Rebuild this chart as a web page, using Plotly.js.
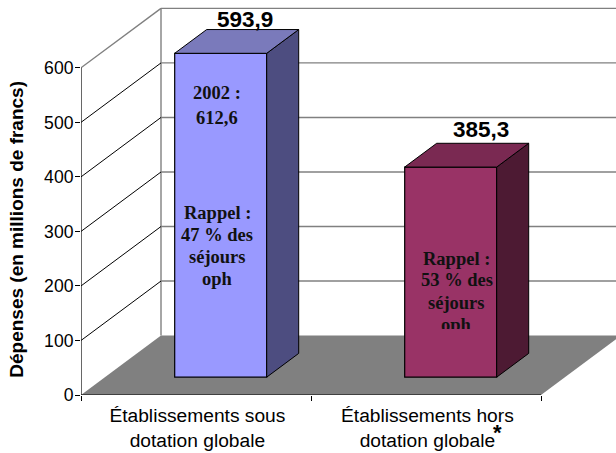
<!DOCTYPE html>
<html><head><meta charset="utf-8">
<script src="https://cdn.plot.ly/plotly-3.0.0.min.js"></script>
<style>html,body{margin:0;padding:0;background:#fff}#c{width:616px;height:453px}</style>
</head><body><div id="c"></div>
<script>
// data
const categories = ["Établissements sous<br>dotation globale", "Établissements hors<br>dotation globale"];
const values = [593.9, 385.3];
const valueLabels = ["593,9", "385,3"];
const yTicks = [0, 100, 200, 300, 400, 500, 600];
const notes = [
  ["2002 :", "612,6", "Rappel :", "47 % des", "séjours", "oph"],
  ["Rappel :", "53 % des", "séjours", "oph"]
];
// styles
const frontColors = ["#9999FF", "#993366"];
const topColors = ["#7A7ABB", "#7A2952"];
const sideColors = ["#4D4D80", "#4D1A33"];
const noteY = [[554, 508, 334, 293, 253, 212], [250, 210, 169, 129]];
const noteDx = [-3.5 / 230, 6 / 230];
const labelDx = [0.213, 0.239];
const labelDy = [18, 26];

// geometry (axis units)
const W = 616, H = 453, L = 81, B = 57.5;
const pxX = 230, pxY = 0.546;
const xMin = -0.5, xMax = xMin + (W - L) / pxX;
const yMax = (H - B) / pxY;
const DX = 80 / pxX, DY = 59.5 / pxY;
const f0 = 0.30, f1 = 0.70;
const barW = 92 / pxX;
const centers = categories.map((_, i) => i);
const xFront = c => c + f0 * DX + 0.003, yBase = f0 * DY;
const dbx = (f1 - f0) * DX, dby = (f1 - f0) * DY;

const shapes = [];
const gray = "#808080";
// floor
shapes.push({type:"path", layer:"below", xref:"x", yref:"y", fillcolor:gray, line:{width:0},
  path:`M ${xMin} 0 L ${xMin+2} 0 L ${xMin+2+DX} ${DY} L ${xMin+DX} ${DY} Z`});
// back and side walls
shapes.push({type:"line", layer:"below", x0:xMin+DX, x1:xMin+DX, y0:DY, y1:600+DY, xref:"x", yref:"y", line:{color:gray, width:1.4}});
yTicks.forEach(v => {
  if (v > 0) shapes.push({type:"line", layer:"below", xref:"x", yref:"y", x0:xMin+DX, x1:xMax, y0:v+DY, y1:v+DY, line:{color:gray, width:1.4}});
  if (v > 0) shapes.push({type:"line", layer:"below", xref:"x", yref:"y", x0:xMin, x1:xMin+DX, y0:v, y1:v+DY, line:{color:v===600?gray:"#000", width:v===600?1.4:1}});
});

const traces = [];
values.forEach((v, i) => {
  const x0 = xFront(centers[i]) - barW/2, x1 = x0 + barW, yb = yBase, yt = yBase + v;
  traces.push({type:"scatter", mode:"lines", fill:"toself", fillcolor:sideColors[i], line:{color:"#000", width:1},
    x:[x1, x1+dbx, x1+dbx, x1, x1], y:[yb, yb+dby, yt+dby, yt, yb], hoverinfo:"skip", showlegend:false});
  traces.push({type:"scatter", mode:"lines", fill:"toself", fillcolor:topColors[i], line:{color:"#000", width:1},
    x:[x0, x1, x1+dbx, x0+dbx, x0], y:[yt, yt, yt+dby, yt+dby, yt], hoverinfo:"skip", showlegend:false});
});
traces.push({type:"bar", x:centers.map(xFront), y:values, base:values.map(()=>yBase), width:barW,
  marker:{color:frontColors, line:{color:"#000", width:1.2}}, hoverinfo:"skip", showlegend:false});
// axis lines
traces.push({type:"scatter", mode:"lines", x:[xMin, xMin], y:[0, 600], line:{color:"#000", width:1.2}, cliponaxis:false, hoverinfo:"skip", showlegend:false});
traces.push({type:"scatter", mode:"lines", x:[xMin, xMin+2], y:[0, 0], line:{color:"#000", width:1.2}, cliponaxis:false, hoverinfo:"skip", showlegend:false});

const annotations = [];
values.forEach((v, i) => {
  annotations.push({xref:"x", yref:"y", x:centers[i]+labelDx[i], y:yBase+v+dby+labelDy[i], text:"<b>"+valueLabels[i]+"</b>",
    showarrow:false, xanchor:"center", yanchor:"middle", font:{family:"Liberation Sans", size:22.5, color:"#000"}});
});
notes.forEach((lines, i) => lines.forEach((t, j) => {
  const clipped = i === 1 && j === 3;
  annotations.push(Object.assign({xref:"x", yref:"y", x:xFront(centers[i]) + noteDx[i], y:noteY[i][j], text:"<b>"+t+"</b>",
    showarrow:false, xanchor:"center", yanchor:"middle", font:{family:"Liberation Serif", size:18.5, color:"#111"}},
    clipped ? {yanchor:"top", y:noteY[i][j]+12/pxY*0.95, height:14, valign:"top"} : {}));
}));
annotations.push({xref:"paper", yref:"paper", x:(17-L)/(W-L), xanchor:"center", y:(H-B-230)/(H-B), yanchor:"middle",
  text:"<b>Dépenses (en millions de francs)</b>", textangle:-90, showarrow:false, font:{family:"Liberation Sans", size:19, color:"#000"}});
annotations.push({xref:"paper", yref:"paper", x:(497-L)/(W-L), xanchor:"center", y:-(433-(H-B))/(H-B), yanchor:"middle",
  text:"<b>*</b>", showarrow:false, font:{family:"Liberation Sans", size:22, color:"#000"}});

const minorTicks = [-0.5, 0.5, 1.5];
Plotly.newPlot("c", traces, {
  width:W, height:H, margin:{l:L, r:0, t:0, b:B, pad:0}, showlegend:false,
  paper_bgcolor:"#fff", plot_bgcolor:"#fff",
  xaxis:{range:[xMin, xMax], tickmode:"array", tickvals:centers.map(c => c + 0.006), ticktext:categories, ticks:"", ticklen:0,
    ticklabelstandoff:7, automargin:false,
    showgrid:false, zeroline:false, showline:false, tickangle:0, tickfont:{family:"Liberation Sans", size:19.2, color:"#000"},
    minor:{tickmode:"array", tickvals:minorTicks, ticks:"outside", ticklen:5, tickcolor:"#000", tickwidth:1, showgrid:false}},
  yaxis:{range:[0, yMax], tickmode:"array", tickvals:yTicks, ticks:"outside", ticklen:5, tickcolor:"#000", tickwidth:1,
    ticklabelstandoff:-2,
    showgrid:false, zeroline:false, showline:false, tickfont:{family:"Liberation Sans", size:17.6, color:"#000"}},
  shapes, annotations
}, {displayModeBar:false, staticPlot:true});
</script></body></html>
